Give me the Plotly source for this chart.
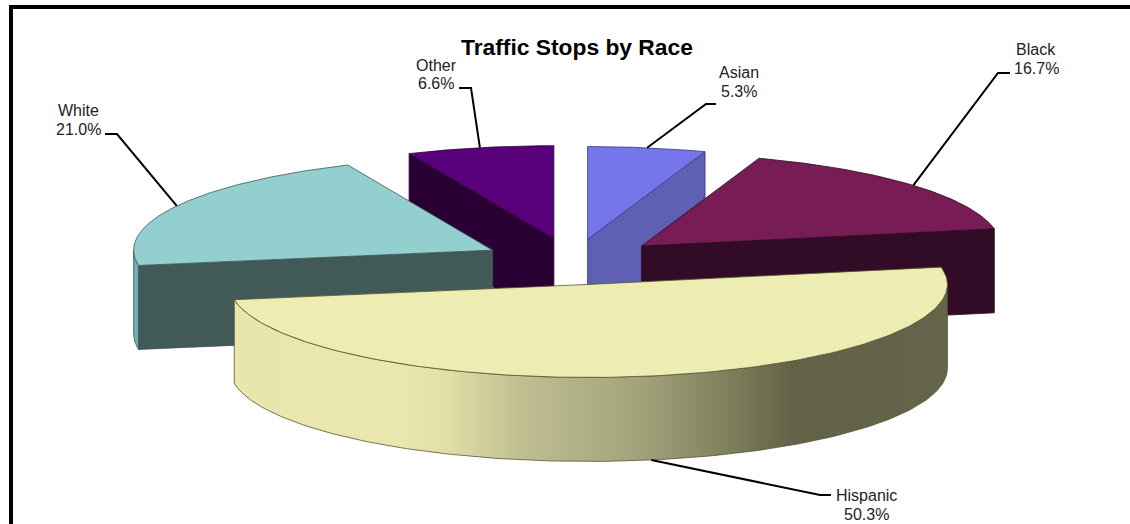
import numpy as np
import plotly.graph_objects as go

categories = ["Asian", "Black", "Hispanic", "White", "Other"]
values = [5.3, 16.7, 50.3, 21.0, 6.6]
title_text = "Traffic Stops by Race"

top_colors = ["#7676EC", "#771C55", "#EDECB2", "#93CFCF", "#58007A"]
wall_colors = ["#5F5FB4", "#320C26", "#EDECB2", "#415A58", "#2A0034"]
rim_colors = ["#5F5FB4", "#320C26", "#EDECB2", "#6FB0B0", "#2A0034"]
edge_colors = ["#33337F", "#2A0A20", "#55552F", "#3F5554", "#2A0034"]

# projection of the pie (page pixels)
CX, CY, RX, RY, EXPLODE, DEPTH = 573.0, 262.0, 359.0, 93.0, 0.245, 84.0
W, H = 1130, 524

# small per-slice position adjustment (page pixels)
slice_nudge = {"Asian": (0, 0), "Black": (2, -1), "Hispanic": (0, 0), "White": (-3, -1), "Other": (-1, -1)}

# hispanic wall shading: (page x, colour)
wall_gradient = [(232, "#E8E6AC"), (400, "#EAE8AE"), (443, "#E3E0A7"), (523, "#BEBE91"),
                 (633, "#A5A57D"), (733, "#7D7D5A"), (793, "#626248"), (948, "#64644B")]

# label layout: lines, text centre, elbow, label-side end of leader
label_layout = {
    "Asian": dict(cx=739, ys=(72, 91), elbow=(706, 104), end=(716, 104)),
    "Black": dict(cx=1036, ys=(49, 68), elbow=(998, 73), end=(1010, 73)),
    "Hispanic": dict(cx=866, ys=(495, 514), elbow=(820, 495), end=(831, 495)),
    "White": dict(cx=78, ys=(110, 129), elbow=(117, 134), end=(105, 134)),
    "Other": dict(cx=436, ys=(65, 83), elbow=(471, 88), end=(459, 88)),
}

share = np.array(values, dtype=float) / sum(values)
ends = np.cumsum(share) * 2 * np.pi
starts = ends - share * 2 * np.pi


def rim(apex, t, dz=0.0):
    t = np.asarray(t)
    return apex[0] + RX * np.sin(t), apex[1] - RY * np.cos(t) + dz


fig = go.Figure()


def poly(x, y, fill, line, width=0.8, gradient=None):
    kw = dict(fillgradient=gradient) if gradient else dict(fillcolor=fill)
    fig.add_trace(go.Scatter(x=list(x), y=list(y), mode="lines", fill="toself",
                             line=dict(color=line, width=width), hoverinfo="skip",
                             showlegend=False, **kw))


apexes = []
for name, s, e in zip(categories, starts, ends):
    m = (s + e) / 2
    nx, ny = slice_nudge[name]
    apexes.append((CX + EXPLODE * RX * np.sin(m) + nx, CY - EXPLODE * RY * np.cos(m) + ny))

order = sorted(range(len(values)), key=lambda i: apexes[i][1])
for i in order:
    s, e, a = starts[i], ends[i], apexes[i]
    # straight cut faces that turn towards the viewer
    for ang, normal in ((s, s - np.pi / 2), (e, e + np.pi / 2)):
        if np.cos(normal) < -1e-6:
            px, py = rim(a, ang)
            poly([a[0], px, px, a[0], a[0]], [a[1], py, py + DEPTH, a[1] + DEPTH, a[1]],
                 wall_colors[i], edge_colors[i])
    # curved outer wall, front half only
    lo, hi = max(s, np.pi / 2), min(e, 3 * np.pi / 2)
    if hi > lo:
        t = np.linspace(lo, hi, 160)
        x1, y1 = rim(a, t)
        x2, y2 = rim(a, t, DEPTH)
        gradient = None
        if categories[i] == "Hispanic":
            x_lo, x_hi = min(x1.min(), x2.min()), max(x1.max(), x2.max())
            stops = [(min(max((px - x_lo) / (x_hi - x_lo), 0), 1), c) for px, c in wall_gradient]
            stops[0] = (0, stops[0][1])
            stops[-1] = (1, stops[-1][1])
            gradient = dict(type="horizontal", colorscale=stops)
        poly(np.r_[x1, x2[::-1], x1[:1]], np.r_[y1, y2[::-1], y1[:1]],
             rim_colors[i], edge_colors[i], 0.8, gradient)
    # top face
    t = np.linspace(s, e, 160)
    x, y = rim(a, t)
    poly(np.r_[a[0], x, a[0]], np.r_[a[1], y, a[1]], top_colors[i], edge_colors[i])

# leaders and labels
annotations = []
for i, name in enumerate(categories):
    m = (starts[i] + ends[i]) / 2
    lay = label_layout[name]
    dz = DEPTH if np.cos(m) < 0 else 0.0
    px, py = rim(apexes[i], m, dz)
    fig.add_trace(go.Scatter(x=[px, lay["elbow"][0], lay["end"][0]],
                             y=[py, lay["elbow"][1], lay["end"][1]],
                             mode="lines", line=dict(color="#000000", width=2),
                             hoverinfo="skip", showlegend=False))
    for txt, ty in zip((name, f"{values[i]:.1f}%"), lay["ys"]):
        annotations.append(dict(x=lay["cx"], y=ty, text=txt, showarrow=False,
                                xanchor="center", yanchor="middle",
                                font=dict(family="Liberation Sans", size=16, color="#222222")))

# title
annotations.append(dict(x=577, y=47, text=f"<b>{title_text}</b>", showarrow=False,
                        xanchor="center", yanchor="middle",
                        font=dict(family="Liberation Sans", size=22.8, color="#000000")))

frame = [
    dict(type="line", x0=11, x1=11, y0=7, y1=H, line=dict(color="#000000", width=4)),
    dict(type="line", x0=9, x1=W, y0=7, y1=7, line=dict(color="#000000", width=4)),
]

fig.update_layout(
    width=W, height=H, autosize=False, margin=dict(l=0, r=0, t=0, b=0),
    paper_bgcolor="#FFFFFF", plot_bgcolor="#FFFFFF", showlegend=False,
    xaxis=dict(range=[0, W], visible=False, fixedrange=True),
    yaxis=dict(range=[H, 0], visible=False, fixedrange=True),
    annotations=annotations, shapes=frame,
)
fig.write_html("out.html", config=dict(displayModeBar=False),
               post_script="document.body.style.margin='0';")
